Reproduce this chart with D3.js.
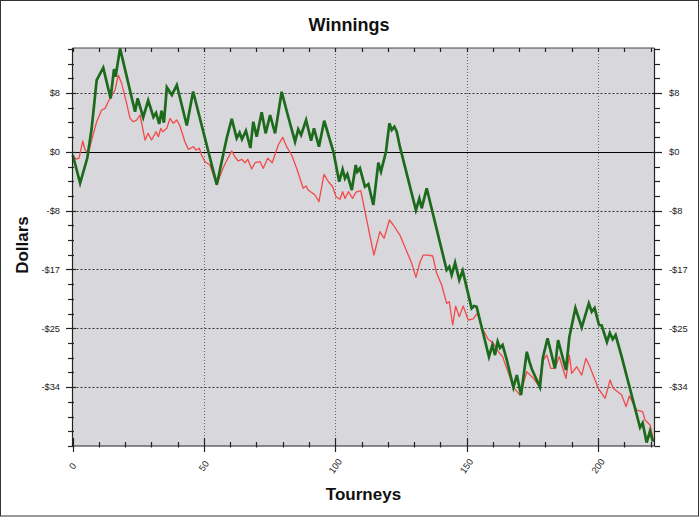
<!DOCTYPE html>
<html><head><meta charset="utf-8">
<script src="https://cdn.jsdelivr.net/npm/d3@7/dist/d3.min.js"></script>
<style>body{margin:0;background:#fff}svg{display:block}</style>
</head><body><svg id="c" width="700" height="517"></svg>
<script>
const title = "Winnings";
const xLabel = "Tourneys";
const yLabel = "Dollars";
const xTickValues = [0, 50, 100, 150, 200];
const yTickValues = [8.5, 0, -8.5, -17, -25.5, -34];
const yTickLabels = ["$8", "$0", "-$8", "-$17", "-$25", "-$34"];

const greenX = [0.1,2.9,5.6,7.3,9.2,11.7,14.5,15.8,16.4,18.1,23.8,24.8,26.9,28.8,30.8,31.8,33.0,33.9,34.8,35.9,37.8,39.7,43.5,45.9,54.9,58.7,60.6,62.5,63.6,64.5,66.0,67.7,68.8,70.1,72.0,73.5,75.2,77.1,79.6,82.1,84.7,85.9,87.0,88.9,90.8,91.9,93.8,95.8,99.3,101.5,102.8,103.7,104.6,106.3,107.8,108.4,109.4,111.3,112.6,114.5,116.4,117.4,119.3,120.6,121.5,122.5,123.4,124.6,130.7,132.0,132.9,134.8,142.4,143.4,144.3,145.6,147.2,148.5,151.9,152.8,153.8,158.5,159.8,160.8,161.8,162.7,163.7,165.3,167.8,169.1,170.7,172.9,173.9,174.8,177.9,179.0,180.8,183.6,184.8,187.8,189.1,191.4,193.8,196.5,197.6,198.7,200.4,201.4,203.4,204.5,205.6,206.7,209.0,216.0,217.0,218.5,219.8,220.9];
const greenY = [-0.46,-4.51,-0.94,3.40,10.37,12.15,7.73,11.96,10.85,14.95,5.79,7.73,4.96,7.44,5.03,5.61,4.02,5.94,4.20,9.32,8.21,9.65,3.80,8.71,-4.75,1.99,4.77,1.95,2.76,1.81,3.05,0.55,4.35,2.18,5.71,2.67,5.32,2.67,8.68,5.07,1.46,3.25,2.43,4.59,1.60,3.40,0.74,4.49,0.01,-4.32,-2.53,-3.83,-3.21,-5.52,-1.91,-2.87,-2.38,-5.04,-4.65,-7.69,-1.57,-2.87,0.01,4.12,3.15,3.63,2.90,0.74,-8.41,-6.75,-8.16,-5.27,-17.08,-16.60,-17.80,-16.02,-18.52,-17.18,-22.61,-22.28,-22.38,-29.61,-27.91,-29.36,-27.43,-28.34,-27.91,-30.08,-34.02,-32.25,-35.14,-28.88,-30.32,-31.38,-33.98,-29.79,-26.94,-31.28,-27.19,-31.52,-26.75,-22.57,-25.38,-21.89,-23.10,-22.57,-25.02,-25.09,-27.48,-26.18,-27.09,-26.47,-29.60,-39.83,-39.18,-42.00,-40.34,-41.88];

const redX = [0.1,1.3,2.5,3.9,4.8,6.0,7.3,9.2,11.1,12.4,13.6,14.9,16.2,17.4,18.7,20.6,21.9,23.1,24.4,25.7,27.6,28.8,30.1,31.8,32.7,33.6,34.3,35.9,37.1,38.4,39.7,40.9,42.8,44.1,46.0,47.0,48.3,49.1,50.4,52.3,54.9,57.3,58.8,60.6,61.8,63.1,64.4,65.7,66.7,68.2,69.5,71.4,72.6,74.3,76.0,78.3,80.0,81.5,83.4,85.3,87.8,88.9,89.7,92.3,93.8,95.7,97.4,99.0,100.3,101.8,102.8,103.7,105.0,106.6,107.9,109.7,114.7,117.0,118.6,120.6,122.1,124.6,129.1,130.7,132.3,133.5,135.4,137.1,138.6,140.5,142.4,143.4,144.7,145.8,147.2,148.7,150.6,152.5,154.1,155.7,158.1,160.2,162.1,163.7,167.8,170.3,172.9,175.4,177.3,179.2,180.5,182.0,183.6,185.3,186.8,187.8,189.1,190.0,191.9,193.8,195.4,196.9,200.1,202.7,204.6,205.8,209.0,210.7,211.9,214.7,217.0,217.9,219.8,221.2];
const redY = [-0.61,-1.04,-0.90,1.56,0.26,-0.22,1.70,4.35,6.04,6.28,7.24,8.06,8.93,11.09,9.90,7.01,4.84,4.35,4.59,5.32,1.70,2.67,1.70,2.90,2.18,3.40,2.90,3.40,4.84,4.12,4.59,3.73,1.42,0.36,0.74,0.26,0.51,-0.46,-1.43,-1.91,-4.75,-2.34,-1.18,0.12,-0.71,-1.33,-1.08,-1.57,-1.08,-2.48,-1.57,-1.43,-2.38,-0.94,-1.57,0.98,2.09,0.74,-0.46,-2.38,-5.27,-4.94,-5.52,-6.24,-7.21,-3.25,-4.32,-5.04,-6.49,-6.86,-5.76,-6.72,-5.76,-6.72,-5.81,-5.62,-14.91,-11.54,-12.50,-9.85,-10.57,-12.02,-16.11,-18.13,-15.88,-14.91,-14.91,-15.05,-17.55,-19.24,-21.89,-21.66,-25.02,-22.28,-23.82,-22.28,-24.30,-24.15,-23.29,-25.27,-27.04,-27.67,-28.88,-29.60,-34.02,-35.14,-31.77,-32.72,-33.69,-30.08,-29.36,-31.28,-31.28,-29.60,-31.52,-32.72,-29.36,-32.00,-31.05,-32.25,-29.83,-31.05,-34.17,-35.61,-32.97,-34.17,-35.14,-36.82,-35.28,-37.30,-37.54,-38.75,-39.47,-41.88];

const svg = d3.select("#c");
const L = 72.5, R = 654.5, T = 48, B = 446;
const x = d3.scaleLinear().domain([0, 221.5]).range([L, R]);
const y = d3.scaleLinear().domain([-42.5, 15]).range([B, T]);
const font = "'Liberation Sans', Arial, sans-serif";

// frame
svg.append("rect").attr("x",0.5).attr("y",0.5).attr("width",698).attr("height",515.5)
  .attr("fill","#fff").attr("stroke","#333").attr("stroke-width",1);

// plot bg
svg.append("rect").attr("x",L).attr("y",T).attr("width",R-L).attr("height",B-T).attr("fill","#d8d7db");

// grids
svg.append("g").selectAll("line").data(xTickValues.filter(d=>d>0)).join("line")
  .attr("x1",d=>Math.round(x(d))+0.5).attr("x2",d=>Math.round(x(d))+0.5).attr("y1",T).attr("y2",B)
  .attr("stroke","#666").attr("stroke-dasharray","1,2");
svg.append("g").selectAll("line").data(yTickValues.filter(d=>d!==0)).join("line")
  .attr("x1",L).attr("x2",R).attr("y1",d=>Math.round(y(d))+0.5).attr("y2",d=>Math.round(y(d))+0.5)
  .attr("stroke","#333").attr("stroke-dasharray","2,2");
svg.append("line").attr("x1",L).attr("x2",R).attr("y1",Math.round(y(0))+0.5).attr("y2",Math.round(y(0))+0.5)
  .attr("stroke","#000").attr("stroke-width",1);

// lines
const lineGen = d3.line().x(d=>x(d[0])).y(d=>y(d[1]));
svg.append("path").datum(redX.map((v,i)=>[v,redY[i]]))
  .attr("d",lineGen).attr("fill","none").attr("stroke","#f24a4a").attr("stroke-width",1.3).attr("stroke-linejoin","round");
svg.append("path").datum(greenX.map((v,i)=>[v,greenY[i]]))
  .attr("d",lineGen).attr("fill","none").attr("stroke","#1c6b1c").attr("stroke-width",2.7).attr("stroke-linejoin","miter");

// axes lines
const ax = svg.append("g").attr("stroke","#222").attr("stroke-width",1.2);
ax.append("line").attr("x1",L).attr("x2",L).attr("y1",T).attr("y2",B);
ax.append("line").attr("x1",R).attr("x2",R).attr("y1",T).attr("y2",B);
ax.append("line").attr("x1",L).attr("x2",R).attr("y1",B).attr("y2",B);
ax.append("line").attr("x1",L).attr("x2",R).attr("y1",T).attr("y2",T).attr("stroke","#444").attr("stroke-width",1);

// y ticks (minor every quarter step)
const yMinor = d3.range(0, 28).map(i => -42.5 + i*2.125).filter(v => v <= 15.01);
const yMajorSet = new Set(yTickValues.map(v=>v.toFixed(3)));
yMinor.forEach(v=>{
  const major = yMajorSet.has(v.toFixed(3));
  const yy = Math.round(y(v))+0.5;
  ax.append("line").attr("x1",major?66:68).attr("x2",major?76:74).attr("y1",yy).attr("y2",yy);
  ax.append("line").attr("x1",major?652:R).attr("x2",major?662:660).attr("y1",yy).attr("y2",yy);
});
// x ticks minor every 10
d3.range(0, 221, 10).forEach(v=>{
  const major = v % 50 === 0;
  const xx = Math.round(x(v))+0.5;
  ax.append("line").attr("x1",xx).attr("x2",xx).attr("y1",major?438:442).attr("y2",major?452:447.5);
  ax.append("line").attr("x1",xx).attr("x2",xx).attr("y1",T).attr("y2",T+4);
});

// y tick labels
svg.append("g").selectAll("text").data(yTickValues).join("text")
  .attr("x",60).attr("y",d=>y(d)).attr("dy","0.35em").attr("text-anchor","end")
  .attr("font-family",font).attr("font-size",9.3).attr("fill","#222")
  .text((d,i)=>yTickLabels[i]);
svg.append("g").selectAll("text").data(yTickValues).join("text")
  .attr("x",669).attr("y",d=>y(d)).attr("dy","0.35em").attr("text-anchor","start")
  .attr("font-family",font).attr("font-size",9.3).attr("fill","#222")
  .text((d,i)=>yTickLabels[i]);

// x tick labels rotated
svg.append("g").selectAll("text").data(xTickValues).join("text")
  .attr("transform",d=>`translate(${x(d)},466) rotate(-55)`)
  .attr("dy","0.35em").attr("text-anchor","middle")
  .attr("font-family",font).attr("font-size",9.3).attr("fill","#222")
  .text(d=>d);

// titles
svg.append("text").attr("x",349).attr("y",30.5).attr("text-anchor","middle")
  .attr("font-family",font).attr("font-weight","bold").attr("font-size",18).attr("fill","#111").text(title);
svg.append("text").attr("x",(L+R)/2).attr("y",500).attr("text-anchor","middle")
  .attr("font-family",font).attr("font-weight","bold").attr("font-size",17).attr("fill","#111").text(xLabel);
svg.append("text").attr("transform","translate(28,245) rotate(-90)").attr("text-anchor","middle")
  .attr("font-family",font).attr("font-weight","bold").attr("font-size",17).attr("fill","#111").text(yLabel);
</script></body></html>
